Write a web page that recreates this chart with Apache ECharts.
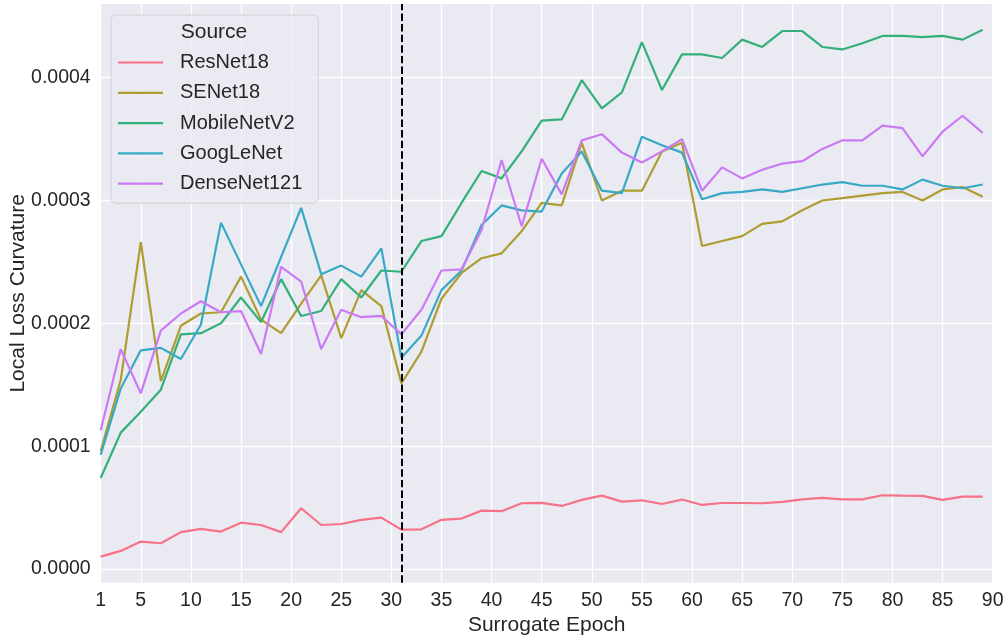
<!DOCTYPE html>
<html>
<head>
<meta charset="utf-8">
<script src="https://cdn.jsdelivr.net/npm/echarts@6/dist/echarts.min.js"></script>
<style>
  html, body { margin: 0; padding: 0; background: #fff; }
  #main { width: 1006px; height: 637px; }
</style>
</head>
<body>
<div id="main"></div>
<script>
    // surrogate epochs (odd only)
    var epochs = [1, 3, 5, 7, 9, 11, 13, 15, 17, 19, 21, 23, 25, 27, 29, 31, 33, 35, 37, 39, 41, 43, 45,
                  47, 49, 51, 53, 55, 57, 59, 61, 63, 65, 67, 69, 71, 73, 75, 77, 79, 81, 83, 85, 87, 89];

    var resnet18 = [0.0000100, 0.0000147, 0.0000223, 0.0000209, 0.0000300, 0.0000326, 0.0000304, 0.0000377,
                    0.0000358, 0.0000300, 0.0000494, 0.0000358, 0.0000366, 0.0000399, 0.0000418, 0.0000320,
                    0.0000323, 0.0000400, 0.0000410, 0.0000475, 0.0000470, 0.0000535, 0.0000538, 0.0000513,
                    0.0000562, 0.0000597, 0.0000548, 0.0000559, 0.0000529, 0.0000565, 0.0000521, 0.0000537,
                    0.0000537, 0.0000535, 0.0000546, 0.0000567, 0.0000578, 0.0000567, 0.0000567, 0.0000600,
                    0.0000597, 0.0000595, 0.0000562, 0.0000589, 0.0000589];

    var senet18 = [0.000096, 0.000154, 0.000266, 0.000153, 0.000198, 0.000208, 0.000209, 0.000238,
                   0.000203, 0.000192, 0.000216, 0.000239, 0.000188, 0.000227, 0.000214, 0.000151,
                   0.000177, 0.000220, 0.000241, 0.000253, 0.000257, 0.000275, 0.000298, 0.000296,
                   0.000347, 0.000300, 0.000308, 0.000308, 0.000340, 0.000347, 0.000263, 0.000267,
                   0.000271, 0.000281, 0.000283, 0.000292, 0.000300, 0.000302, 0.000304, 0.000306,
                   0.000307, 0.000300, 0.000309, 0.000311, 0.000303];

    var mobilenetv2 = [0.000074, 0.000111, 0.000128, 0.000146, 0.000191, 0.000192, 0.000200, 0.000221,
                       0.000201, 0.000236, 0.000206, 0.000210, 0.000236, 0.000221, 0.000243, 0.000242,
                       0.000267, 0.000271, 0.000298, 0.000324, 0.000318, 0.000340, 0.000365, 0.000366,
                       0.000398, 0.000375, 0.000388, 0.000429, 0.000390, 0.000419, 0.000419, 0.000416,
                       0.000431, 0.000425, 0.000438, 0.000438, 0.000425, 0.000423, 0.000428, 0.000434,
                       0.000434, 0.000433, 0.000434, 0.000431, 0.000439];

    var googlenet = [0.000093, 0.000147, 0.000178, 0.000180, 0.000171, 0.000199, 0.000282, 0.000248,
                     0.000214, 0.000254, 0.000294, 0.000240, 0.000247, 0.000238, 0.000261, 0.000172,
                     0.000190, 0.000227, 0.000243, 0.000280, 0.000296, 0.000292, 0.000291, 0.000322,
                     0.000340, 0.000308, 0.000306, 0.000352, 0.000345, 0.000339, 0.000301, 0.000306,
                     0.000307, 0.000309, 0.000307, 0.000310, 0.000313, 0.000315, 0.000312, 0.000312,
                     0.000309, 0.000317, 0.000312, 0.000310, 0.000313];

    var densenet121 = [0.000113, 0.000179, 0.000143, 0.000194, 0.000208, 0.000218, 0.000209, 0.000210,
                       0.000175, 0.000246, 0.000234, 0.000179, 0.000211, 0.000205, 0.000206, 0.000191,
                       0.000211, 0.000243, 0.000244, 0.000276, 0.000333, 0.000279, 0.000334, 0.000305,
                       0.000349, 0.000354, 0.000339, 0.000331, 0.000340, 0.000350, 0.000308, 0.000327,
                       0.000318, 0.000325, 0.000330, 0.000332, 0.000342, 0.000349, 0.000349, 0.000361,
                       0.000359, 0.000336, 0.000356, 0.000369, 0.000355];

    var seriesNames = ['ResNet18', 'SENet18', 'MobileNetV2', 'GoogLeNet', 'DenseNet121'];
    var seriesColors = ['#f77189', '#ae9d31', '#33b07a', '#38a9c5', '#cc7af4'];
    var seriesData = [resnet18, senet18, mobilenetv2, googlenet, densenet121];

    var xTicks = [1, 5, 10, 15, 20, 25, 30, 35, 40, 45, 50, 55, 60, 65, 70, 75, 80, 85, 90];
    var yTicks = [0, 0.0001, 0.0002, 0.0003, 0.0004];
    var switchEpoch = 31;

    var FONT = "'Liberation Sans', Arial, sans-serif";
    var TXT = '#262626';

    function pairs(vals) {
        return vals.map(function (v, i) { return [epochs[i], v]; });
    }

    var series = seriesNames.map(function (name, k) {
        return {
            name: name,
            type: 'line',
            data: pairs(seriesData[k]),
            symbol: 'none',
            showSymbol: false,
            color: seriesColors[k],
            lineStyle: { width: 2.2, color: seriesColors[k] },
            animation: false
        };
    });
    // dashed marker at epoch 31
    series[0].markLine = {
        silent: true,
        symbol: ['none', 'none'],
        label: { show: false },
        lineStyle: { color: '#000', width: 2, type: [7.4, 3.2] },
        data: [{ xAxis: switchEpoch }],
        animation: false
    };

    var chart = echarts.init(document.getElementById('main'));
    chart.setOption({
        backgroundColor: '#ffffff',
        animation: false,
        textStyle: { fontFamily: FONT, color: TXT },
        grid: {
            left: 100.7, right: 13.3, top: 4, bottom: 54.3,
            containLabel: false,
            outerBoundsMode: 'none',
            show: true, backgroundColor: '#eaeaf2', borderWidth: 0
        },
        xAxis: {
            type: 'value',
            min: 1, max: 90,
            name: 'Surrogate Epoch',
            nameLocation: 'middle',
            nameGap: 32,
            nameMoveOverlap: false,
            nameTextStyle: { fontSize: 21, color: TXT, fontFamily: FONT },
            axisLine: { show: false },
            axisTick: { show: false, customValues: xTicks },
            axisLabel: { customValues: xTicks, fontSize: 19.5, color: TXT, margin: 8, fontFamily: FONT },
            splitLine: { show: true, lineStyle: { color: '#ffffff', width: 1.3 } }
        },
        yAxis: {
            type: 'value',
            min: -0.0000112, max: 0.00046,
            name: 'Local Loss Curvature',
            nameLocation: 'middle',
            nameGap: 72,
            nameMoveOverlap: false,
            nameTextStyle: { fontSize: 21, color: TXT, fontFamily: FONT },
            axisLine: { show: false },
            axisTick: { show: false, customValues: yTicks },
            axisLabel: {
                customValues: yTicks, fontSize: 19.5, color: TXT, margin: 10, fontFamily: FONT,
                formatter: function (v) { return v.toFixed(4); }
            },
            splitLine: { show: true, lineStyle: { color: '#ffffff', width: 1.3 } }
        },
        legend: {
            data: seriesNames,
            orient: 'vertical',
            left: 111, top: 15,
            padding: [37.5, 16, 9.5, 7],
            icon: 'rect',
            itemWidth: 45, itemHeight: 2.2,
            itemGap: 10.3,
            backgroundColor: 'rgba(234,234,242,0.8)',
            borderColor: 'rgba(204,204,204,0.8)',
            borderWidth: 1,
            borderRadius: 5,
            textStyle: { fontSize: 20, lineHeight: 20, color: TXT, fontFamily: FONT, padding: [0, 0, 0, 12] }
        },
        graphic: [{
            type: 'text',
            x: 214, y: 32, z: 100,
            style: {
                text: 'Source', fill: TXT, font: '21px ' + FONT,
                align: 'center', verticalAlign: 'middle'
            }
        }],
        series: series
    });
</script>
</body>
</html>
